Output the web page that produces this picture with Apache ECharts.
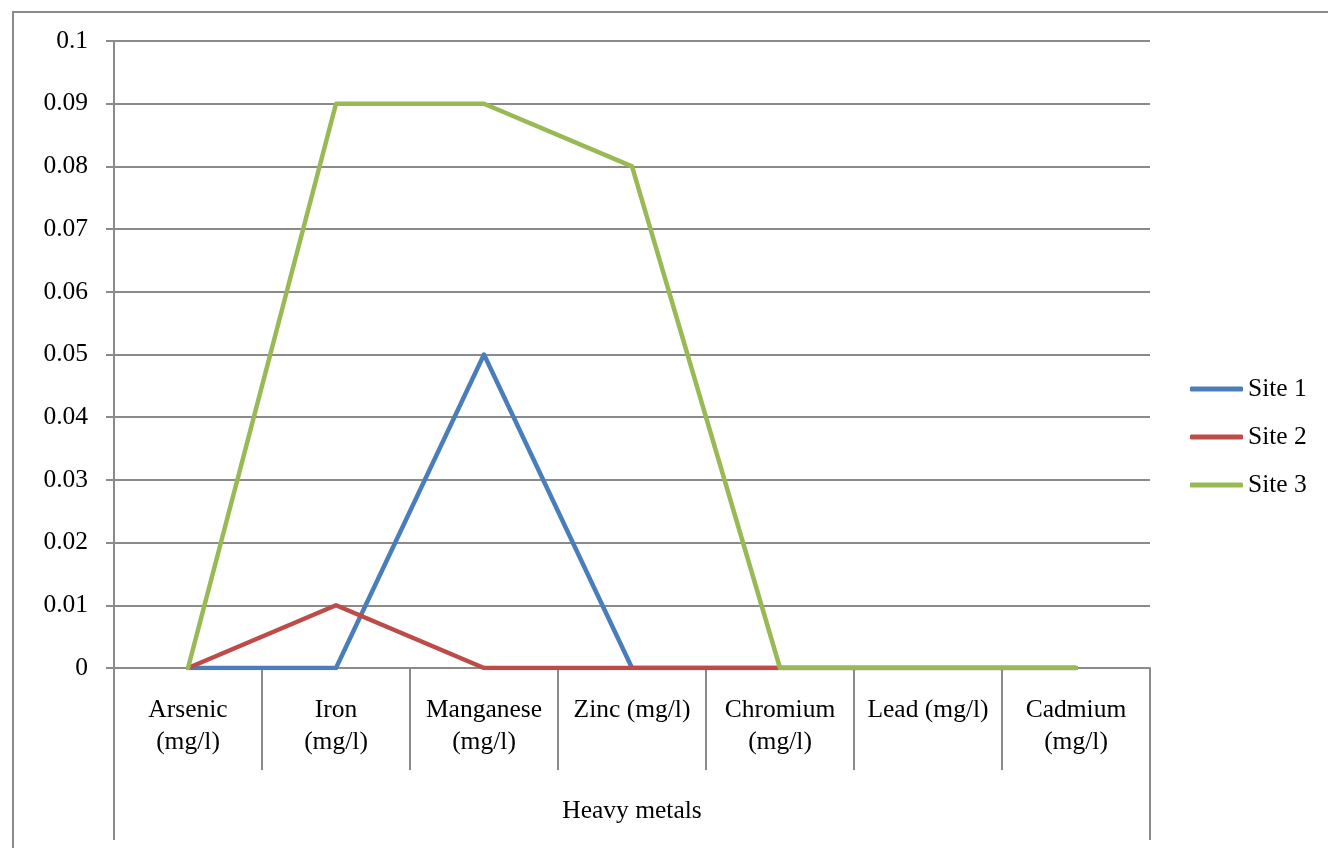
<!DOCTYPE html>
<html>
<head>
<meta charset="utf-8">
<script src="https://cdn.jsdelivr.net/npm/echarts@6/dist/echarts.min.js"></script>
<style>
  html, body { margin: 0; padding: 0; background: #fff; }
  #chart { width: 1328px; height: 848px; }
</style>
</head>
<body>
<div id="chart"></div>
<script>
// Heavy metal concentrations (mg/l) measured at three sites
const categories = ['Arsenic\n(mg/l)', 'Iron\n(mg/l)', 'Manganese\n(mg/l)', 'Zinc (mg/l)', 'Chromium\n(mg/l)', 'Lead (mg/l)', 'Cadmium\n(mg/l)'];
const groupLabel = ['Heavy metals'];
const site1 = [0, 0, 0.05, 0, 0, 0, 0];
const site2 = [0, 0.01, 0, 0, 0, 0, 0];
const site3 = [0, 0.09, 0.09, 0.08, 0, 0, 0];
const seriesNames = ['Site 1', 'Site 2', 'Site 3'];
const seriesColors = ['#4a7ebb', '#be4b48', '#98b954'];

const FONT = '"Liberation Serif", "Times New Roman", serif';
const FONT_SIZE = 25.5;
const AXIS_GREY = '#8a8a8a';

const chart = echarts.init(document.getElementById('chart'), null, { renderer: 'canvas' });

const mkLine = (name, data, color) => ({
  name: name,
  type: 'line',
  data: data,
  symbol: 'none',
  xAxisIndex: 0,
  lineStyle: { width: 4.5, color: color, cap: 'round', join: 'round' },
  itemStyle: { color: color },
  animation: false
});

chart.setOption({
  animation: false,
  backgroundColor: '#fff',
  textStyle: { fontFamily: FONT },
  graphic: [{
    type: 'rect',
    shape: { x: 13, y: 12, width: 1400, height: 900 },
    style: { fill: 'none', stroke: AXIS_GREY, lineWidth: 2 },
    silent: true,
    z: -1
  }],
  grid: { left: 114, right: 178, top: 41, bottom: 180, containLabel: false },
  legend: {
    orient: 'vertical',
    left: 1185,
    top: 371,
    icon: 'roundRect',
    itemWidth: 53,
    itemHeight: 5,
    itemGap: 22,
    data: seriesNames,
    textStyle: { fontFamily: FONT, fontSize: FONT_SIZE, color: '#000', lineHeight: 24 }
  },
  xAxis: [{
    type: 'category',
    data: categories,
    boundaryGap: true,
    position: 'bottom',
    axisLine: { show: true, lineStyle: { color: AXIS_GREY, width: 2 } },
    axisTick: { show: true, interval: 0, length: 102, lineStyle: { color: AXIS_GREY, width: 2 } },
    axisLabel: { interval: 0, margin: 26, color: '#000', fontFamily: FONT, fontSize: FONT_SIZE, lineHeight: 32, align: 'center' },
    splitLine: { show: false }
  }, {
    type: 'category',
    data: groupLabel,
    boundaryGap: true,
    position: 'bottom',
    axisLine: { show: false },
    axisTick: { show: true, length: 172, lineStyle: { color: AXIS_GREY, width: 2 } },
    axisLabel: { margin: 131, color: '#000', fontFamily: FONT, fontSize: FONT_SIZE, lineHeight: 24 },
    splitLine: { show: false }
  }],
  yAxis: {
    type: 'value',
    min: 0,
    max: 0.1,
    interval: 0.01,
    axisLine: { show: true, lineStyle: { color: AXIS_GREY, width: 2 } },
    axisTick: { show: true, length: 8, lineStyle: { color: AXIS_GREY, width: 2 } },
    axisLabel: {
      margin: 26,
      color: '#000',
      fontFamily: FONT,
      fontSize: FONT_SIZE,
      formatter: v => String(parseFloat(v.toFixed(2)))
    },
    splitLine: { show: true, lineStyle: { color: AXIS_GREY, width: 2 } }
  },
  series: [
    mkLine(seriesNames[0], site1, seriesColors[0]),
    mkLine(seriesNames[1], site2, seriesColors[1]),
    mkLine(seriesNames[2], site3, seriesColors[2])
  ]
});
</script>
</body>
</html>
